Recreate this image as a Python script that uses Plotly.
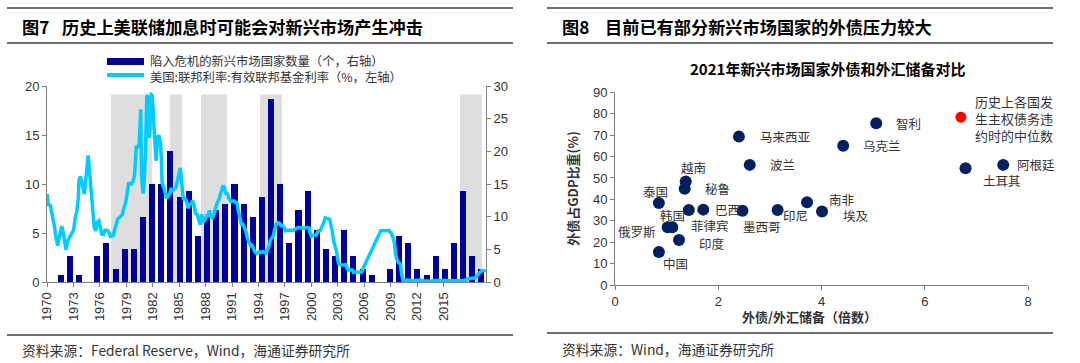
import plotly.graph_objects as go

# ---------------- data: left chart ----------------
crisis_years = list(range(1970, 2018))
crisis_counts = [0, 1, 4, 1, 0, 4, 6, 2, 5, 5,
                 10, 15, 15, 20, 13, 14, 7, 10, 11, 12,
                 15, 12, 10, 13, 28, 15, 6, 11, 14, 8,
                 5, 4, 8, 4, 2, 1, 0, 2, 7, 6,
                 2, 1, 4, 2, 6, 14, 4, 2]

fed_dates = [
    "1970-01", "1970-03", "1970-05", "1970-07", "1970-09", "1970-11", "1970-12",
    "1971-02", "1971-03", "1971-04", "1971-06", "1971-08", "1971-09", "1971-11", "1971-12",
    "1972-01", "1972-02", "1972-04", "1972-06", "1972-08", "1972-10", "1972-12",
    "1973-02", "1973-04", "1973-06", "1973-07", "1973-09", "1973-11", "1973-12",
    "1974-02", "1974-04", "1974-05", "1974-07", "1974-08", "1974-10", "1974-12",
    "1975-02", "1975-03", "1975-05", "1975-07", "1975-09", "1975-11", "1975-12",
    "1976-01", "1976-03", "1976-05", "1976-07", "1976-09", "1976-11", "1976-12",
    "1977-02", "1977-04", "1977-06", "1977-08", "1977-10", "1977-12",
    "1978-02", "1978-04", "1978-06", "1978-08", "1978-10", "1978-12",
    "1979-02", "1979-04", "1979-06", "1979-08", "1979-10", "1979-12",
    "1980-02", "1980-03", "1980-04", "1980-05", "1980-07", "1980-08", "1980-10", "1980-12",
    "1981-01", "1981-03", "1981-04", "1981-05", "1981-06", "1981-07", "1981-08", "1981-10", "1981-12",
    "1982-01", "1982-02", "1982-04", "1982-06", "1982-07", "1982-08", "1982-10", "1982-12",
    "1983-02", "1983-04", "1983-06", "1983-08", "1983-10", "1983-12",
    "1984-02", "1984-04", "1984-06", "1984-08", "1984-10", "1984-12",
    "1985-02", "1985-04", "1985-06", "1985-08", "1985-10", "1985-12",
    "1986-02", "1986-04", "1986-06", "1986-08", "1986-10", "1986-12",
    "1987-02", "1987-04", "1987-06", "1987-08", "1987-10", "1987-12",
    "1988-02", "1988-04", "1988-06", "1988-08", "1988-10", "1988-12",
    "1989-02", "1989-04", "1989-06", "1989-08", "1989-10", "1989-12",
    "1990-02", "1990-04", "1990-06", "1990-08", "1990-10", "1990-12",
    "1991-02", "1991-04", "1991-06", "1991-08", "1991-10", "1991-12",
    "1992-02", "1992-04", "1992-06", "1992-08", "1992-10", "1992-12",
    "1993-03", "1993-06", "1993-09", "1993-12",
    "1994-02", "1994-04", "1994-06", "1994-08", "1994-10", "1994-12",
    "1995-02", "1995-04", "1995-06", "1995-08", "1995-10", "1995-12",
    "1996-02", "1996-06", "1996-10", "1996-12",
    "1997-03", "1997-06", "1997-09", "1997-12",
    "1998-03", "1998-06", "1998-09", "1998-10", "1998-12",
    "1999-03", "1999-06", "1999-09", "1999-12",
    "2000-02", "2000-04", "2000-06", "2000-08", "2000-10", "2000-12",
    "2001-01", "2001-03", "2001-05", "2001-07", "2001-09", "2001-11", "2001-12",
    "2002-03", "2002-06", "2002-09", "2002-11", "2002-12",
    "2003-03", "2003-06", "2003-07", "2003-12",
    "2004-03", "2004-06", "2004-08", "2004-10", "2004-12",
    "2005-03", "2005-06", "2005-09", "2005-12",
    "2006-03", "2006-06", "2006-07", "2006-12",
    "2007-06", "2007-08", "2007-09", "2007-10", "2007-12",
    "2008-01", "2008-02", "2008-04", "2008-06", "2008-09", "2008-10", "2008-11", "2008-12",
    "2009-06", "2009-12", "2010-06", "2010-12", "2011-06", "2011-12",
    "2012-06", "2012-12", "2013-06", "2013-12", "2014-06", "2014-12",
    "2015-06", "2015-12", "2016-01", "2016-06", "2016-11", "2016-12",
    "2017-01", "2017-03", "2017-04", "2017-06", "2017-07", "2017-11", "2017-12",
]
fed_rate = [
    8.98, 7.76, 7.94, 7.21, 6.29, 5.60, 4.90,
    3.72, 3.71, 4.16, 4.91, 5.57, 5.55, 4.66, 4.14,
    3.50, 3.29, 4.17, 4.46, 4.81, 5.04, 5.33,
    6.58, 7.12, 8.49, 10.40, 10.78, 10.03, 9.95,
    8.97, 10.51, 11.31, 12.92, 12.01, 10.06, 8.53,
    6.24, 5.54, 5.22, 6.10, 6.24, 5.22, 5.20,
    4.87, 4.84, 5.29, 5.31, 5.25, 4.95, 4.65,
    4.68, 4.73, 5.39, 5.90, 6.47, 6.56,
    6.78, 6.89, 7.60, 8.04, 8.96, 10.03,
    10.06, 10.01, 10.29, 10.94, 13.77, 13.78,
    14.13, 17.19, 17.61, 10.98, 9.03, 9.61, 12.81, 18.90,
    19.08, 14.70, 15.72, 18.52, 19.10, 19.04, 17.82, 15.08, 12.37,
    13.22, 14.78, 14.94, 14.15, 12.59, 10.12, 9.71, 8.95,
    8.51, 8.80, 8.98, 9.56, 9.34, 9.47,
    9.59, 10.29, 11.06, 11.64, 9.99, 8.38,
    8.50, 8.27, 7.53, 7.90, 7.99, 8.27,
    7.86, 6.99, 6.92, 6.17, 5.85, 6.91,
    6.10, 6.36, 6.73, 6.73, 7.29, 6.77,
    6.58, 6.87, 7.50, 8.01, 8.30, 8.76,
    9.12, 9.84, 9.53, 9.02, 8.99, 8.45,
    8.24, 8.26, 8.29, 8.13, 8.11, 7.31,
    6.43, 5.91, 5.90, 5.57, 5.21, 4.43,
    4.06, 3.73, 3.76, 3.30, 3.02, 2.92,
    3.07, 3.04, 3.09, 2.96,
    3.25, 3.56, 4.25, 4.47, 4.76, 5.45,
    5.92, 6.05, 6.00, 5.74, 5.76, 5.60,
    5.22, 5.27, 5.24, 5.29,
    5.39, 5.56, 5.54, 5.50,
    5.49, 5.56, 5.51, 5.07, 4.68,
    4.81, 4.76, 5.22, 5.30,
    5.73, 6.02, 6.53, 6.50, 6.51, 6.40,
    5.98, 5.31, 4.21, 3.77, 3.07, 2.09, 1.82,
    1.73, 1.75, 1.75, 1.34, 1.24,
    1.25, 1.22, 1.01, 0.98,
    1.00, 1.03, 1.43, 1.76, 2.16,
    2.63, 3.04, 3.62, 4.16,
    4.59, 4.99, 5.24, 5.24,
    5.25, 5.02, 4.94, 4.76, 4.24,
    3.94, 2.98, 2.28, 2.00, 1.81, 0.97, 0.39, 0.16,
    0.21, 0.12, 0.18, 0.18, 0.09, 0.07,
    0.16, 0.16, 0.09, 0.09, 0.10, 0.12,
    0.13, 0.24, 0.34, 0.38, 0.41, 0.54,
    0.65, 0.79, 0.90, 1.04, 1.15, 1.16, 1.30,
]

hike_start = [1977.0, 1983.45, 1986.85, 1993.3, 2015.15]
hike_end = [1981.5, 1984.75, 1989.7, 1995.7, 2017.55]

tick_years = list(range(1970, 2016, 3))

# ---------------- data: right chart ----------------
countries = ["马来西亚", "波兰", "越南", "秘鲁", "泰国", "韩国", "俄罗斯", "菲律宾",
             "印度", "中国", "巴西", "墨西哥", "印尼", "南非", "埃及", "智利",
             "乌克兰", "阿根廷", "土耳其"]
debt_to_reserves = [2.40, 2.61, 1.37, 1.35, 0.85, 1.11, 1.02, 1.43,
                    1.24, 0.85, 1.71, 2.47, 3.15, 3.72, 4.01, 5.06,
                    4.42, 7.52, 6.79]
debt_to_gdp = [69.3, 56.1, 48.3, 45.0, 38.3, 27.0, 27.0, 35.0,
               21.0, 15.4, 35.2, 34.7, 35.0, 38.6, 34.3, 75.5,
               65.0, 56.1, 54.5]
default_label = "历史上各国发<br>生主权债务违<br>约时的中位数"
default_ratio = [6.70]
default_gdp = [78.4]

# label placement (pixels): anchor, xshift, yshift
label_pos = {
    "马来西亚": ("left", 19, 0), "波兰": ("left", 18, 0), "越南": ("center", 8, 14),
    "秘鲁": ("left", 18, 0), "泰国": ("center", -3, 12), "韩国": ("center", 0, 12),
    "俄罗斯": ("right", -10, -4), "菲律宾": ("center", 21, -15), "印度": ("left", 18, -3),
    "中国": ("center", 17, -11), "巴西": ("left", 10, 0), "墨西哥": ("center", 19, -16),
    "印尼": ("center", 18, -5), "南非": ("left", 20, 3), "埃及": ("left", 19, -4),
    "智利": ("left", 18, 0), "乌克兰": ("left", 18, 0), "阿根廷": ("left", 12, 0),
    "土耳其": ("center", 36, -12),
}

# ---------------- helpers ----------------
W, H = 1080, 363


def px(x):
    return x / W


def py(y):
    return 1 - y / H


def dec_year(s):
    y, m = s.split("-")
    return int(y) + (int(m) - 1) / 12


NUM_FONT = "Liberation Sans, Arial, sans-serif"
CJK_FONT = "Noto Sans CJK SC, sans-serif"
AXIS_COLOR = "#7f7f7f"
TXT = "#333333"

BAR_COLOR = "#000099"
LINE_COLOR = "#00CCFF"
SHADE = "#DEDEDE"
DOT = "#002060"

fig = go.Figure()

# bars (right axis, 0-30)
fig.add_trace(go.Bar(
    x=[y + 0.5 for y in crisis_years], y=crisis_counts, width=0.66,
    marker=dict(color=BAR_COLOR, line=dict(width=0)),
    xaxis="x", yaxis="y", showlegend=False, name="陷入危机的新兴市场国家数量",
))
# fed funds line (left axis, 0-20)
fig.add_trace(go.Scatter(
    x=[dec_year(d) for d in fed_dates], y=fed_rate, mode="lines",
    line=dict(color=LINE_COLOR, width=3.5),
    xaxis="x", yaxis="y2", showlegend=False, name="有效联邦基金利率",
))
# dummy trace so the label axis is drawn
fig.add_trace(go.Scatter(x=[None], y=[None], xaxis="x2", yaxis="y",
                         showlegend=False, hoverinfo="skip"))

# scatter (right panel)
fig.add_trace(go.Scatter(
    x=debt_to_reserves, y=debt_to_gdp, mode="markers",
    marker=dict(color=DOT, size=12, line=dict(width=0)),
    xaxis="x3", yaxis="y3", showlegend=False, text=countries,
))
fig.add_trace(go.Scatter(
    x=default_ratio, y=default_gdp, mode="markers",
    marker=dict(color="#FF0000", size=11, line=dict(width=0)),
    xaxis="x3", yaxis="y3", showlegend=False,
))

# shading for hike periods
shade_top = 28.7
for s, e in zip(hike_start, hike_end):
    fig.add_shape(type="rect", xref="x", yref="y", x0=s, x1=e, y0=0, y1=shade_top,
                  fillcolor=SHADE, line=dict(width=0), layer="below")

left_dom = [px(47), px(486)]
left_ydom = [py(282), py(86)]
tickfont = dict(family=NUM_FONT, size=13, color=TXT)
common = dict(automargin=False, showgrid=False, zeroline=False, fixedrange=True)

fig.update_layout(
    width=W, height=H, autosize=False,
    margin=dict(l=0, r=0, t=0, b=0, autoexpand=False),
    paper_bgcolor="white", plot_bgcolor="rgba(0,0,0,0)",
    bargap=0,
    xaxis=dict(domain=left_dom, range=[1970, 2018], visible=False, anchor="y", **common),
    xaxis2=dict(overlaying="x", range=[1970, 1970 + 439 / 8.81], anchor="y",
                tickvals=tick_years, ticktext=[str(t) for t in tick_years],
                tickangle=-90, ticks="outside", ticklen=4, tickcolor=AXIS_COLOR,
                showline=True, linecolor=AXIS_COLOR, linewidth=1,
                tickfont=tickfont, side="bottom", **common),
    yaxis=dict(domain=left_ydom, range=[0, 30], tickvals=list(range(0, 31, 5)),
               side="right", anchor="x", showline=True, linecolor=AXIS_COLOR,
               ticks="outside", ticklen=4, tickcolor=AXIS_COLOR,
               tickfont=tickfont, **common),
    yaxis2=dict(overlaying="y", range=[0, 20], tickvals=list(range(0, 21, 5)),
                side="left", anchor="x", showline=True, linecolor=AXIS_COLOR,
                ticks="outside", ticklen=4, tickcolor=AXIS_COLOR,
                tickfont=tickfont, **common),
    xaxis3=dict(domain=[px(615), px(1028)], range=[0, 8], tickvals=[0, 2, 4, 6, 8],
                anchor="y3", showline=True, linecolor=AXIS_COLOR, ticks="outside",
                ticklen=4, tickcolor=AXIS_COLOR, tickfont=tickfont, **common),
    yaxis3=dict(domain=[py(285), py(92.3)], range=[0, 90],
                tickvals=list(range(0, 91, 10)), anchor="x3", showline=True,
                linecolor=AXIS_COLOR, ticks="outside", ticklen=4,
                tickcolor=AXIS_COLOR, tickfont=tickfont, **common),
)

ann = []


def text(x, y, s, size, bold=False, anchor="left", color=TXT, angle=0, family=CJK_FONT):
    if bold:
        s = "<b>" + s + "</b>"
    ann.append(dict(x=px(x), y=py(y), xref="paper", yref="paper", text=s,
                    showarrow=False, xanchor=anchor, yanchor="middle",
                    textangle=angle, font=dict(family=family, size=size, color=color)))


# panel titles
text(20, 27, "图7", 17.2, bold=True, color="#000000")
text(60, 27, "历史上美联储加息时可能会对新兴市场产生冲击", 17.2, bold=True, color="#000000")
text(560, 27, "图8", 17.2, bold=True, color="#000000")
text(603, 27, "目前已有部分新兴市场国家的外债压力较大", 17.2, bold=True, color="#000000")

# sources
text(20, 350, "资料来源：Federal Reserve，Wind，海通证券研究所", 13.8)
text(560, 349, "资料来源：Wind，海通证券研究所", 13.8)

# legend (left chart)
text(148, 60.8, "陷入危机的新兴市场国家数量（个，右轴）", 12.3)
text(148, 76.8, "美国:联邦利率:有效联邦基金利率（%，左轴）", 12.3)

# right chart title and axis titles
text(827, 68, "2021年新兴市场国家外债和外汇储备对比", 15, bold=True, anchor="center",
     color="#000000")
text(809, 316, "外债/外汇储备（倍数）", 13, bold=True, anchor="center")
text(573, 188.7, "外债占GDP比重(%)", 13, bold=True, anchor="center", angle=-90)

# country labels
for name, xv, yv in zip(countries, debt_to_reserves, debt_to_gdp):
    anchor, dx, dy = label_pos[name]
    ann.append(dict(x=xv, y=yv, xref="x3", yref="y3", text=name, showarrow=False,
                    xanchor=anchor, yanchor="middle", xshift=dx, yshift=dy,
                    font=dict(family=CJK_FONT, size=12.5, color=TXT)))
ann.append(dict(x=default_ratio[0], y=default_gdp[0], xref="x3", yref="y3",
                text=default_label, showarrow=False, xanchor="left", yanchor="middle",
                align="left", xshift=12, yshift=-1,
                font=dict(family=CJK_FONT, size=13, color=TXT)))

fig.update_layout(annotations=ann)

# separator lines and legend swatches
for (x0, x1) in [(7, 513), (547, 1053)]:
    for yy in (8, 43):
        fig.add_shape(type="line", xref="paper", yref="paper", x0=px(x0), x1=px(x1),
                      y0=py(yy), y1=py(yy), line=dict(color="#404040", width=1.5))
fig.add_shape(type="line", xref="paper", yref="paper", x0=px(7), x1=px(513),
              y0=py(335), y1=py(335), line=dict(color="#404040", width=1.5))
fig.add_shape(type="line", xref="paper", yref="paper", x0=px(547), x1=px(1053),
              y0=py(333), y1=py(333), line=dict(color="#404040", width=1.5))

fig.add_shape(type="rect", xref="paper", yref="paper", x0=px(107), x1=px(144),
              y0=py(65), y1=py(58), fillcolor=BAR_COLOR, line=dict(width=0))
fig.add_shape(type="line", xref="paper", yref="paper", x0=px(107), x1=px(144),
              y0=py(75), y1=py(75), line=dict(color=LINE_COLOR, width=4))

fig.write_html("out.html",
               config={"displayModeBar": False, "staticPlot": True},
               post_script="document.body.style.margin='0px';"
                           "document.body.style.overflow='hidden';")
